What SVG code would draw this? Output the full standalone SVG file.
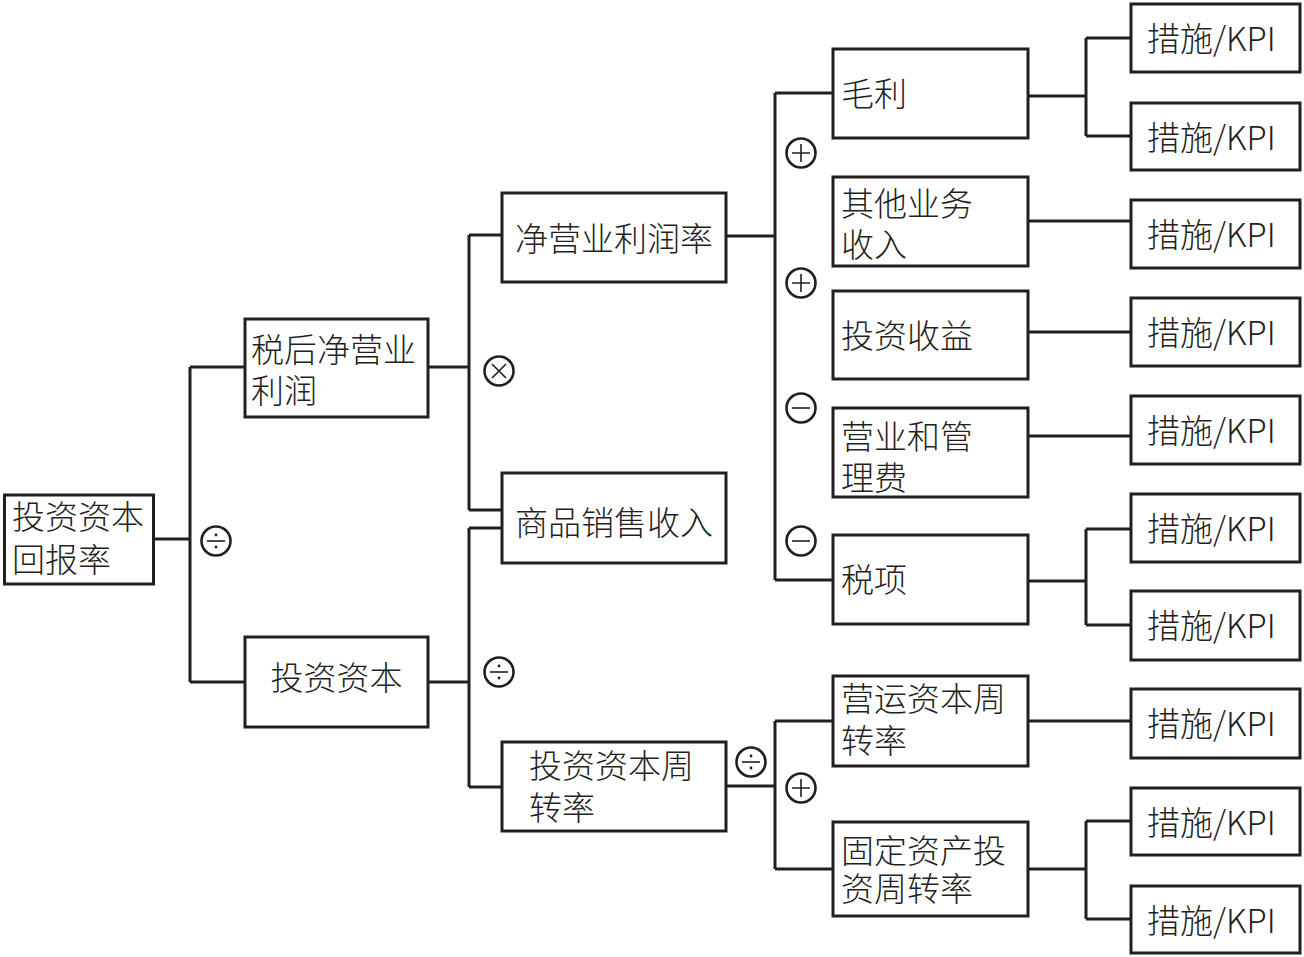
<svg xmlns="http://www.w3.org/2000/svg" width="1304" height="957" viewBox="0 0 1304 957">
<style>
.box{fill:#fff;stroke:#231f20;stroke-width:3}
.ln{fill:none;stroke:#231f20;stroke-width:3}
.op{fill:#fff;stroke:#231f20;stroke-width:2.6}
.sym{fill:none;stroke:#231f20;stroke-width:1.6}
.dot{fill:#231f20}
text{font-family:"Noto Sans CJK SC","Noto Sans",sans-serif;font-size:33px;font-weight:300;fill:#231f20}
</style>
<defs>
<g id="plus"><circle class="op" r="14.5"/><path class="sym" d="M-9,0H9M0,-9V9"/></g>
<g id="minus"><circle class="op" r="14.5"/><path class="sym" d="M-9,0H9"/></g>
<g id="div"><circle class="op" r="14.5"/><path class="sym" d="M-9,0H9"/><circle class="dot" cx="0" cy="-6" r="1.4"/><circle class="dot" cx="0" cy="6" r="1.4"/></g>
<g id="times"><circle class="op" r="14.5"/><path class="sym" d="M-7,-7L7,7M7,-7L-7,7"/></g>
</defs>
<rect width="1304" height="957" fill="#fff"/>
<g id="connectors">
<path class="ln" d="M154,539H190M190,367V682M190,367H245M190,682H245"/>
<path class="ln" d="M428,367H469M469,235V510M469,235H502M469,510H502"/>
<path class="ln" d="M428,682H469M469,528V787M469,528H502M469,787H502"/>
<path class="ln" d="M726,236H775M775,93V580M775,93H833M775,580H833"/>
<path class="ln" d="M726,786H775M775,721V869M775,721H833M775,869H833"/>
<path class="ln" d="M1028,96H1086M1086,38V136M1086,38H1131M1086,136H1131"/>
<path class="ln" d="M1028,221H1131M1028,332H1131M1028,436H1131M1028,721H1131"/>
<path class="ln" d="M1028,581H1086M1086,529V625M1086,529H1131M1086,625H1131"/>
<path class="ln" d="M1028,869H1086M1086,821V919M1086,821H1131M1086,919H1131"/>
</g>
<g id="operators">
<use href="#div" x="216" y="541"/>
<use href="#times" x="499" y="371"/>
<use href="#div" x="499" y="672"/>
<use href="#div" x="751" y="762"/>
<use href="#plus" x="801" y="153"/>
<use href="#plus" x="801" y="283"/>
<use href="#minus" x="801" y="408"/>
<use href="#minus" x="801" y="541"/>
<use href="#plus" x="801" y="788"/>
</g>
<g id="n-root"><rect class="box" x="4.5" y="495" width="149" height="89"/><text x="12" y="529">投资资本</text><text x="12" y="572">回报率</text></g>
<g id="n-nopat"><rect class="box" x="245" y="319" width="183" height="98"/><text x="251" y="362">税后净营业</text><text x="251" y="403">利润</text></g>
<g id="n-ic"><rect class="box" x="245" y="637" width="183" height="90"/><text x="336.5" y="690" text-anchor="middle">投资资本</text></g>
<g id="n-npm"><rect class="box" x="502" y="193" width="224" height="89"/><text x="614" y="251" text-anchor="middle">净营业利润率</text></g>
<g id="n-sales"><rect class="box" x="502" y="473" width="224" height="90"/><text x="614" y="535" text-anchor="middle">商品销售收入</text></g>
<g id="n-ict"><rect class="box" x="502" y="742" width="224" height="89"/><text x="529" y="778">投资资本周</text><text x="529" y="820">转率</text></g>
<g id="n-gp"><rect class="box" x="833" y="49" width="195" height="89"/><text x="841" y="106">毛利</text></g>
<g id="n-other"><rect class="box" x="833" y="177" width="195" height="89"/><text x="841" y="216">其他业务</text><text x="841" y="257">收入</text></g>
<g id="n-inv"><rect class="box" x="833" y="291" width="195" height="88"/><text x="841" y="348">投资收益</text></g>
<g id="n-sga"><rect class="box" x="833" y="408" width="195" height="89"/><text x="841" y="449">营业和管</text><text x="841" y="490">理费</text></g>
<g id="n-tax"><rect class="box" x="833" y="535" width="195" height="89"/><text x="841" y="592">税项</text></g>
<g id="n-wct"><rect class="box" x="833" y="676" width="195" height="90"/><text x="841" y="711">营运资本周</text><text x="841" y="753">转率</text></g>
<g id="n-fat"><rect class="box" x="833" y="822" width="195" height="94"/><text x="841" y="863">固定资产投</text><text x="841" y="901">资周转率</text></g>
<g id="kpi1"><rect class="box" x="1131" y="4" width="169" height="68"/><text x="1147" y="51">措施/KPI</text></g>
<g id="kpi2"><rect class="box" x="1131" y="103" width="169" height="67"/><text x="1147" y="150">措施/KPI</text></g>
<g id="kpi3"><rect class="box" x="1131" y="200" width="169" height="68"/><text x="1147" y="247">措施/KPI</text></g>
<g id="kpi4"><rect class="box" x="1131" y="298" width="169" height="68"/><text x="1147" y="345">措施/KPI</text></g>
<g id="kpi5"><rect class="box" x="1131" y="396" width="169" height="68"/><text x="1147" y="443">措施/KPI</text></g>
<g id="kpi6"><rect class="box" x="1131" y="494" width="169" height="68"/><text x="1147" y="541">措施/KPI</text></g>
<g id="kpi7"><rect class="box" x="1131" y="591" width="169" height="69"/><text x="1147" y="638">措施/KPI</text></g>
<g id="kpi8"><rect class="box" x="1131" y="689" width="169" height="69"/><text x="1147" y="736">措施/KPI</text></g>
<g id="kpi9"><rect class="box" x="1131" y="788" width="169" height="67"/><text x="1147" y="835">措施/KPI</text></g>
<g id="kpi10"><rect class="box" x="1131" y="886" width="169" height="67"/><text x="1147" y="933">措施/KPI</text></g>
</svg>
